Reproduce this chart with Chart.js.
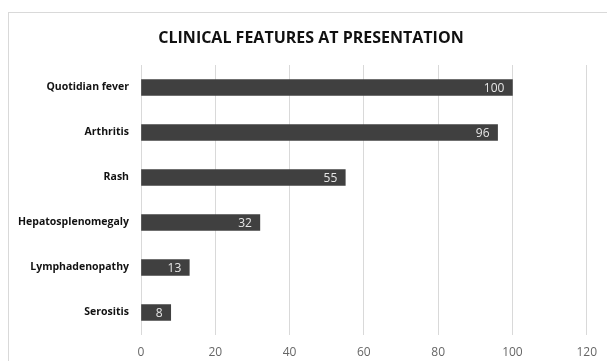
<!DOCTYPE html>
<html>
<head>
<meta charset="utf-8">
<script src="https://cdn.jsdelivr.net/npm/chart.js@4"></script>
<style>
  html, body { margin: 0; padding: 0; background: #fff; }
  #frame {
    position: absolute; left: 8px; top: 12px; width: 640px; height: 400px;
    border: 1px solid #d9d9d9;
  }
  #wrap { position: absolute; left: 0; top: 0; width: 607px; height: 361px; }
</style>
</head>
<body>
<div id="frame"></div>
<div id="wrap"><canvas id="barChart"></canvas></div>
<script>
const chartTitle = "CLINICAL FEATURES AT PRESENTATION";
const featureLabels = ["Quotidian fever", "Arthritis", "Rash", "Hepatosplenomegaly", "Lymphadenopathy", "Serositis"];
const featureValues = [100, 96, 55, 32, 13, 8];
const axisTicks = [0, 20, 40, 60, 80, 100, 120];

// Title sits centred on the outer frame, not on the plot, so draw it by hand
const frameTitle = {
  id: "frameTitle",
  afterDraw(chart) {
    const ctx = chart.ctx;
    ctx.save();
    ctx.font = "bold 16px 'Open Sans'";
    ctx.fillStyle = "#111";
    ctx.textAlign = "center";
    ctx.textBaseline = "middle";
    ctx.fillText(chartTitle, 311, 38);
    ctx.restore();
  }
};

// Write the value near the end of each bar, inside it
const barValues = {
  id: "barValues",
  afterDatasetsDraw(chart) {
    const ctx = chart.ctx;
    const meta = chart.getDatasetMeta(0);
    ctx.save();
    ctx.font = "12px 'Open Sans'";
    ctx.fillStyle = "#e6e6e6";
    ctx.textAlign = "right";
    ctx.textBaseline = "middle";
    meta.data.forEach((bar, i) => {
      ctx.fillText(String(featureValues[i]), bar.x - 8, bar.y + 1);
    });
    ctx.restore();
  }
};

new Chart(document.getElementById("barChart"), {
  type: "bar",
  data: {
    labels: featureLabels,
    datasets: [{
      data: featureValues,
      backgroundColor: "#404040",
      barThickness: 16
    }]
  },
  plugins: [barValues, frameTitle],
  options: {
    indexAxis: "y",
    responsive: true,
    maintainAspectRatio: false,
    animation: false,
    layout: { padding: { left: 0, right: 17, top: 65, bottom: 0 } },
    plugins: {
      legend: { display: false },
      tooltip: { enabled: false },
      title: { display: false }
    },
    scales: {
      x: {
        min: 0,
        max: 120,
        afterBuildTicks: (scale) => { scale.ticks = axisTicks.map(v => ({ value: v })); },
        afterFit: (scale) => { scale.height = 26; },
        grid: { color: "#d9d9d9", drawTicks: false },
        border: { display: false },
        ticks: { color: "#666", padding: 10, font: { family: "'Open Sans'", size: 12 } }
      },
      y: {
        afterFit: (scale) => { scale.width = 141; },
        grid: { display: false, drawTicks: false },
        border: { display: false },
        ticks: { color: "#111", padding: 12, font: { family: "'Open Sans'", size: 10.5, weight: "bold" } }
      }
    }
  }
});
</script>
</body>
</html>
